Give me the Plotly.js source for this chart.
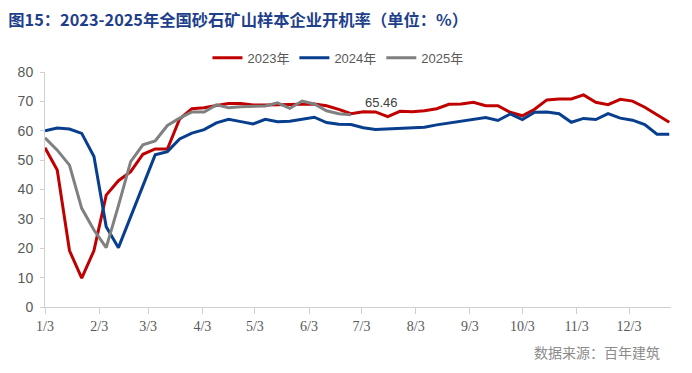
<!DOCTYPE html>
<html>
<head>
<meta charset="utf-8">
<script src="https://cdn.plot.ly/plotly-3.0.1.min.js"></script>
<style>
html,body{margin:0;padding:0;background:#fff;}
#chart{width:692px;height:373px;}
</style>
</head>
<body>
<div id="chart"></div>
<script>
// weekly observation dates (month-day), plotted on a common calendar year
const weeks = ['01-03','01-10','01-17','01-24','01-31','02-07','02-14','02-21','02-28',
  '03-07','03-14','03-21','03-28','04-04','04-11','04-18','04-25','05-02','05-09','05-16',
  '05-23','05-30','06-06','06-13','06-20','06-27','07-04','07-11','07-18','07-25','08-01',
  '08-08','08-15','08-22','08-29','09-05','09-12','09-19','09-26','10-03','10-10','10-17',
  '10-24','10-31','11-07','11-14','11-21','11-28','12-05','12-12','12-19','12-26'];

const seriesNames = ['2023年', '2024年', '2025年'];

const rate2023 = [54.2, 46.6, 19.2, 9.8, 19.2, 38.1, 43.0, 46.1, 52.0, 53.8, 53.8, 64.0, 67.5,
  67.8, 68.6, 69.3, 69.3, 68.8, 68.8, 68.9, 68.9, 69.2, 69.1, 68.5, 67.3, 65.8, 66.5, 66.4,
  64.8, 66.6, 66.5, 66.8, 67.5, 69.0, 69.1, 69.7, 68.5, 68.5, 66.3, 65.1, 67.3, 70.5, 70.8,
  70.8, 72.2, 69.7, 68.9, 70.7, 70.1, 68.0, 65.5, 62.9];

const rate2024 = [60.0, 60.9, 60.6, 59.1, 51.2, 27.3, 20.2, 30.8, 41.5, 51.8, 52.9, 57.2, 59.2,
  60.4, 62.7, 63.9, 63.1, 62.3, 63.9, 63.1, 63.2, 63.9, 64.6, 62.8, 62.2, 62.1, 61.0, 60.4,
  60.6, 60.7, 60.8, 61.2, 62.0, 62.6, 63.3, 63.8, 64.5, 63.5, 65.7, 63.8, 66.3, 66.4, 65.8,
  62.9, 64.2, 63.8, 65.8, 64.3, 63.6, 62.1, 58.8, 58.8];

const rate2025 = [57.6, 53.4, 48.3, 33.6, 26.2, 20.2, 34.5, 49.5, 55.2, 56.5, 61.8, 64.3, 66.4,
  66.4, 68.8, 67.8, 68.2, 68.4, 68.4, 69.5, 67.6, 70.1, 69.1, 66.8, 65.8, 65.46];

const tickDates = ['01-03','02-03','03-03','04-03','05-03','06-03','07-03','08-03','09-03','10-03','11-03','12-03'];
const tickLabels = ['1/3','2/3','3/3','4/3','5/3','6/3','7/3','8/3','9/3','10/3','11/3','12/3'];

const yr = '2023-';
const xDates = weeks.map(d => yr + d);
const colors = ['#C00000', '#083E8E', '#808080'];
const allRates = [rate2023, rate2024, rate2025];

const traces = allRates.map((vals, k) => ({
  type: 'scatter',
  mode: 'lines',
  name: seriesNames[k],
  x: xDates.slice(0, vals.length),
  y: vals,
  line: {color: colors[k], width: 3},
  hoverinfo: 'skip'
}));

const lastIdx = rate2025.length - 1;

const layout = {
  width: 692,
  height: 373,
  paper_bgcolor: '#ffffff',
  plot_bgcolor: '#ffffff',
  margin: {l: 45, r: 21, t: 72, b: 66},
  title: {
    text: '图15：2023-2025年全国砂石矿山样本企业开机率（单位：%）',
    font: {family: '"Noto Sans CJK SC", "Noto Sans", sans-serif', size: 16.3, color: '#1F3F8C', weight: 'bold'},
    x: 0.012, xanchor: 'left', xref: 'container',
    y: 0.946, yanchor: 'middle', yref: 'container'
  },
  showlegend: true,
  legend: {
    orientation: 'h',
    x: 0.468, xanchor: 'center',
    y: 1.06, yanchor: 'middle',
    font: {family: '"Liberation Sans", "Noto Sans CJK SC", sans-serif', size: 13, color: '#595959'},
    bgcolor: 'rgba(0,0,0,0)'
  },
  xaxis: {
    type: 'date',
    range: [yr + '01-03', yr + '12-27'],
    tickvals: tickDates.map(d => yr + d),
    ticktext: tickLabels,
    showgrid: false,
    zeroline: false,
    showline: true,
    linecolor: '#D0D0D0',
    linewidth: 1,
    ticks: 'outside',
    ticklen: 6,
    tickcolor: '#D0D0D0',
    tickfont: {family: '"Liberation Serif", "DejaVu Serif", serif', size: 14, color: '#595959'},
    fixedrange: true
  },
  yaxis: {
    range: [0, 80],
    tickvals: [0, 10, 20, 30, 40, 50, 60, 70, 80],
    showgrid: false,
    zeroline: false,
    showline: true,
    linecolor: '#D0D0D0',
    linewidth: 1,
    ticks: 'outside',
    ticklen: 4,
    tickcolor: '#D0D0D0',
    ticklabelstandoff: 4,
    tickfont: {family: '"Liberation Sans", sans-serif', size: 14, color: '#595959'},
    fixedrange: true
  },
  annotations: [
    {
      x: xDates[lastIdx], y: rate2025[lastIdx], xref: 'x', yref: 'y',
      text: String(rate2025[lastIdx]),
      showarrow: false,
      xanchor: 'left', yanchor: 'middle',
      xshift: 12, yshift: 12,
      font: {family: '"Liberation Sans", sans-serif', size: 13, color: '#404040'}
    },
    {
      x: 0.986, y: -0.19, xref: 'paper', yref: 'paper',
      text: '数据来源：百年建筑',
      showarrow: false,
      xanchor: 'right', yanchor: 'middle',
      font: {family: '"Noto Sans CJK SC", sans-serif', size: 14, color: '#8C8C8C'}
    }
  ]
};

Plotly.newPlot('chart', traces, layout, {displayModeBar: false, staticPlot: true});
</script>
</body>
</html>
